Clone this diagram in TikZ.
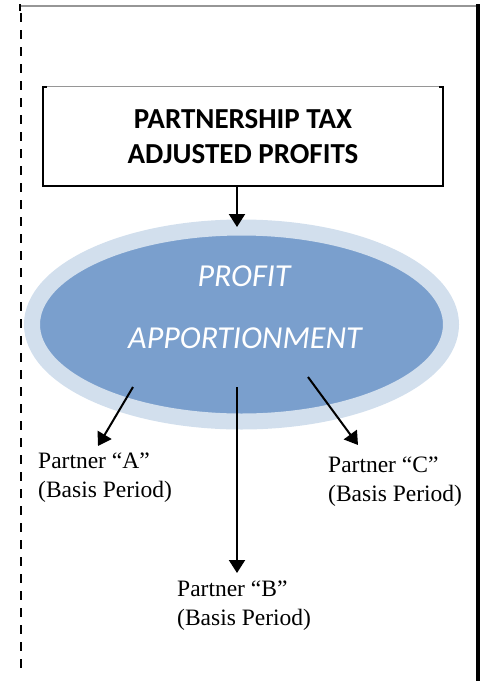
\documentclass[tikz,border=0pt]{standalone}
\usepackage{fontspec}
\setmainfont{Liberation Serif}
\newfontfamily\carlito{Carlito}
\usetikzlibrary{arrows.meta,shapes.geometric}
\definecolor{ringblue}{RGB}{210,223,237}
\definecolor{coreblue}{RGB}{122,159,205}
\definecolor{topedge}{RGB}{150,150,150}
\tikzset{
  flowarrow/.style={line width=2pt,-{Triangle[length=13pt,width=16pt]}},
  partnerlbl/.style={anchor=base west,inner sep=0pt,align=left,
    font=\fontsize{23.5}{28.5}\selectfont},
  ellipselbl/.style={anchor=base,inner sep=0pt,text=white,
    font=\carlito\itshape\fontsize{32}{36}\selectfont},
}
% the base anchor sits on the second line
\newcommand{\partnernode}[4]{%
  \node[partnerlbl] (#1) at (#2,#3) {Partner “#4”\\(Basis Period)};%
}

\begin{document}
\begin{tikzpicture}[x=1pt,y=-1pt]
  \useasboundingbox (0,0) rectangle (486,681);
  % page frame
  \draw[topedge,line width=2pt] (21,6) -- (477,6);
  \draw[line width=2.4pt,dash pattern=on 9pt off 8pt] (21,13) -- (21,672);
  \draw[line width=2.5pt] (20,4) -- (20,11);
  \draw[line width=3.5pt] (478,4) -- (478,681);
  % adjusted profits box
  \node[minimum width=400pt,minimum height=99pt,inner sep=0pt,align=center,
    font=\carlito\bfseries\fontsize{29}{34.5}\selectfont] (adjbox) at (243,136.5)
    {PARTNERSHIP TAX\\ADJUSTED PROFITS};
  \draw[topedge,line width=1.2pt] (adjbox.north west) -- (adjbox.north east);
  \draw[line width=2pt] ([xshift=4pt]adjbox.north west) -- (adjbox.north west)
    -- (adjbox.south west) -- (adjbox.south east) -- (adjbox.north east)
    -- ([xshift=-4pt]adjbox.north east);
  % apportionment ellipse
  \node[ellipse,draw=ringblue,line width=16pt,fill=coreblue,inner sep=0pt,
    minimum width=419pt,minimum height=194pt] (apport) at (241.5,324.5) {};
  \node[ellipselbl] (profitword) at (244,286) {PROFIT};
  \node[ellipselbl] (apportword) at (245,348) {APPORTIONMENT};
  % partners
  \partnernode{partA}{38}{497}{A}
  \partnernode{partB}{177}{625}{B}
  \partnernode{partC}{328}{501}{C}
  % connector ends
  \coordinate (intoapport) at (237,227);
  \coordinate (fromA) at (133,387);
  \coordinate (tipA) at (98,446);
  \coordinate (fromB) at (237,387);
  \coordinate (tipB) at (237,573);
  \coordinate (fromC) at (308,377);
  \coordinate (tipC) at (358,445);
  \draw[flowarrow] (adjbox.south -| intoapport) -- (intoapport);
  \draw[flowarrow] (fromA) -- (tipA);
  \draw[flowarrow] (fromB) -- (tipB);
  \draw[flowarrow] (fromC) -- (tipC);
\end{tikzpicture}
\end{document}
